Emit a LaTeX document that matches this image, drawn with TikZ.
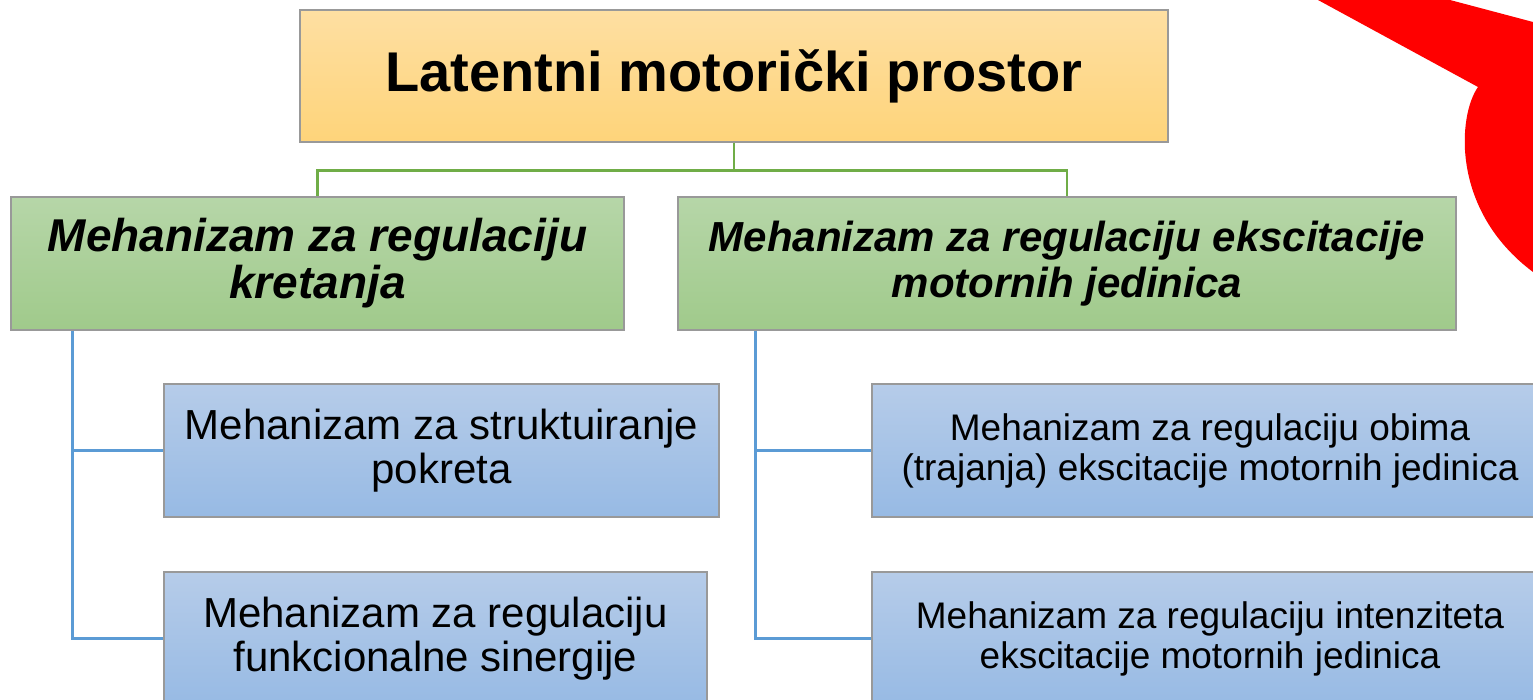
\documentclass[tikz,border=0pt]{standalone}
\usepackage{fontspec}
\setmainfont{Liberation Sans}
\usepackage{tikz}
\usetikzlibrary{calc}
\usetikzlibrary{positioning}
\definecolor{roottop}{RGB}{254,223,162}
\definecolor{rootbot}{RGB}{254,212,122}
\definecolor{mechtop}{RGB}{182,214,168}
\definecolor{mechbot}{RGB}{160,202,139}
\definecolor{subtop}{RGB}{182,204,233}
\definecolor{subbot}{RGB}{151,186,228}
\definecolor{glink}{RGB}{112,173,71}
\definecolor{blink}{RGB}{91,155,213}
\tikzstyle{root} = [rectangle, draw=black!40, line width=1.2pt, top color=roottop, bottom color=rootbot, minimum width=868pt, minimum height=132pt, inner sep=0, align=center, font=\bfseries\fontsize{56}{60}\selectfont]
\tikzstyle{mech} = [rectangle, draw=black!40, line width=1.2pt, top color=mechtop, bottom color=mechbot, minimum height=133pt, inner sep=0, align=center]
\tikzstyle{sub} = [rectangle, draw=black!40, line width=1.2pt, top color=subtop, bottom color=subbot, minimum height=133pt, inner sep=0, align=center]
\tikzstyle{gline} = [-, draw=glink, line width=2.5pt]
\tikzstyle{bline} = [-, draw=blink, line width=2.5pt]

\begin{document}
\begin{tikzpicture}[x=1pt, y=-1pt]
\useasboundingbox (0, 0) rectangle (1533, 700);
\clip (0, 0) rectangle (1533, 700);
%\fill [white] (0, 0) rectangle (1533, 700);
\node [root] (top) at (734, 76) {Latentni motori\v{c}ki prostor};
\node [mech, minimum width=613pt, font=\bfseries\itshape\fontsize{46}{47}\selectfont] (kret) at (317.5, 263.5) {Mehanizam za regulaciju\\kretanja};
\node [mech, minimum width=778pt, font=\bfseries\itshape\fontsize{42}{46}\selectfont] (eksc) at (1067, 263.5) {Mehanizam za regulaciju ekscitacije\\motornih jedinica};
\node [sub, minimum width=555pt, font=\fontsize{42}{44}\selectfont] (strukt) at (441.5, 450.5) {Mehanizam za struktuiranje\\pokreta};
\node [sub, minimum width=543pt, font=\fontsize{42}{44}\selectfont] (siner) at (435.5, 638.5) {Mehanizam za regulaciju\\funkcionalne sinergije};
\node [sub, minimum width=676pt, font=\fontsize{37}{40}\selectfont] (obim) at (1210, 450.5) {Mehanizam za regulaciju obima\\(trajanja) ekscitacije motornih jedinica};
\node [sub, minimum width=676pt, font=\fontsize{37}{40}\selectfont] (inten) at (1210, 638.5) {Mehanizam za regulaciju intenziteta\\ekscitacije motornih jedinica};
\coordinate (split) at ($(top.south)+(0, 28)$);
\draw [gline] (top.south) to (split) -| (kret.north);
\draw [gline] (split) -| (eksc.north);
\draw [bline] ([xshift=62pt]kret.south west) |- (strukt.west);
\draw [bline] ([xshift=62pt]kret.south west) |- (siner.west);
\draw [bline] ([xshift=78pt]eksc.south west) |- (obim.west);
\draw [bline] ([xshift=78pt]eksc.south west) |- (inten.west);
% red arrow cut by the frame
\fill [red] (1318, 0) -- (1450, 0) -- (1533, 22) -- (1533, 272) .. controls (1450, 210) and (1458, 115) .. (1478, 87) -- cycle;
\end{tikzpicture}
\end{document}
